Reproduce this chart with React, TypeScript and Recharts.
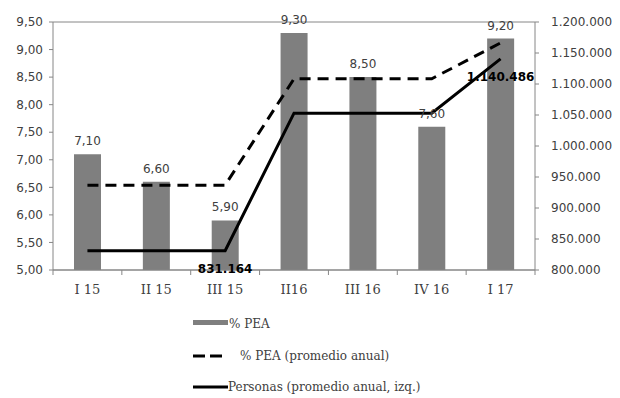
import React from 'react';
import { ComposedChart, Bar, Line, XAxis, YAxis, CartesianGrid, Legend, LabelList } from 'recharts';

const quarters = ['I 15', 'II 15', 'III 15', 'II16', 'III 16', 'IV 16', 'I 17'];
const peaPct = [7.1, 6.6, 5.9, 9.3, 8.5, 7.6, 9.2];
const peaAvg = [6.54, 6.54, 6.54, 8.47, 8.47, 8.47, 9.12];
const personas = [831164, 831164, 831164, 1053000, 1053000, 1053000, 1140486];
const personasLabelled = [2, 6];

const leftTicks = [5, 5.5, 6, 6.5, 7, 7.5, 8, 8.5, 9, 9.5];
const rightTicks = [800000, 850000, 900000, 950000, 1000000, 1050000, 1100000, 1150000, 1200000];

const data = quarters.map((q, i) => ({ q, pea: peaPct[i], avg: peaAvg[i], pers: personas[i] }));

const SANS = '"DejaVu Sans", Verdana, sans-serif';
const SERIF = '"DejaVu Serif", serif';
const AXIS = '#868686';
const TEXT = '#404040';
const BAR = '#7f7f7f';

const fmtComma = (v: number) => v.toFixed(2).replace('.', ',');
const fmtThousands = (v: number) => String(Math.round(v)).replace(/\B(?=(\d{3})+(?!\d))/g, '.');

const BAND = 482 / 7;

const XTick = (props: any) => {
  const { x, y, payload, index } = props;
  return (
    <g>
      <line x1={x - BAND / 2} x2={x - BAND / 2} y1={y - 8} y2={y - 3} stroke={AXIS} />
      {index === quarters.length - 1 && (
        <line x1={x + BAND / 2} x2={x + BAND / 2} y1={y - 8} y2={y - 3} stroke={AXIS} />
      )}
      <text x={x} y={y + 16} textAnchor="middle" fontFamily={SERIF} fontSize={13} fill={TEXT}>
        {payload.value}
      </text>
    </g>
  );
};

const PersonasLabel = (props: any) => {
  const { x, y, index, value } = props;
  if (!personasLabelled.includes(index)) return null;
  return (
    <text x={x} y={y + 22} textAnchor="middle" fontFamily={SANS} fontSize={12} fontWeight="bold" fill="#000">
      {fmtThousands(value)}
    </text>
  );
};

const renderLegend = () => (
  <svg width={300} height={90}>
    <rect x={40} y={12} width={35} height={5} fill={BAR} />
    <text x={76} y={20} fontFamily={SERIF} fontSize={12} fill={TEXT}>% PEA</text>
    <line x1={40} x2={52} y1={48} y2={48} stroke="#000" strokeWidth={3} />
    <line x1={57} x2={69} y1={48} y2={48} stroke="#000" strokeWidth={3} />
    <text x={87} y={52} fontFamily={SERIF} fontSize={12} fill={TEXT}>% PEA (promedio anual)</text>
    <line x1={40} x2={75} y1={79} y2={79} stroke="#000" strokeWidth={3} />
    <text x={75} y={83} fontFamily={SERIF} fontSize={12} fill={TEXT}>Personas (promedio anual, izq.)</text>
  </svg>
);

export default function App() {
  return (
    <div style={{ position: 'absolute', left: 0, top: 0, width: 620, height: 398, background: '#fff' }}>
      <ComposedChart width={620} height={398} data={data} margin={{ top: 22, right: 0, bottom: 98, left: 0 }}>
        <CartesianGrid vertical={false} stroke={AXIS} strokeWidth={1} />
        <XAxis
          dataKey="q"
          height={30}
          stroke={AXIS}
          tickLine={false}
          tick={<XTick />}
          interval={0}
        />
        <YAxis
          yAxisId="left"
          width={53}
          domain={[5, 9.5]}
          ticks={leftTicks}
          tickFormatter={fmtComma}
          stroke={AXIS}
          tickSize={4}
          tickMargin={6}
          tick={{ fontFamily: SANS, fontSize: 12, fill: TEXT }}
          allowDataOverflow
        />
        <YAxis
          yAxisId="right"
          orientation="right"
          width={85}
          domain={[800000, 1200000]}
          ticks={rightTicks}
          tickFormatter={fmtThousands}
          stroke={AXIS}
          tickSize={4}
          tickMargin={12}
          tick={{ fontFamily: SANS, fontSize: 12, fill: TEXT, textAnchor: 'start' }}
        />
        <Bar yAxisId="left" dataKey="pea" fill={BAR} barSize={27} isAnimationActive={false}>
          <LabelList
            dataKey="pea"
            position="top"
            offset={9}
            formatter={(v: any) => fmtComma(Number(v))}
            style={{ fontFamily: SANS, fontSize: 12, fill: TEXT }}
          />
        </Bar>
        <Line
          yAxisId="left"
          dataKey="avg"
          stroke="#000"
          strokeWidth={3}
          strokeDasharray="11 7"
          dot={false}
          isAnimationActive={false}
        />
        <Line
          yAxisId="right"
          dataKey="pers"
          stroke="#000"
          strokeWidth={3}
          dot={false}
          isAnimationActive={false}
        >
          <LabelList dataKey="pers" content={<PersonasLabel />} />
        </Line>
        <Legend
          layout="vertical"
          align="center"
          verticalAlign="middle"
          content={renderLegend}
          wrapperStyle={{ left: 153, top: 308, width: 300, height: 90 }}
        />
      </ComposedChart>
    </div>
  );
}
